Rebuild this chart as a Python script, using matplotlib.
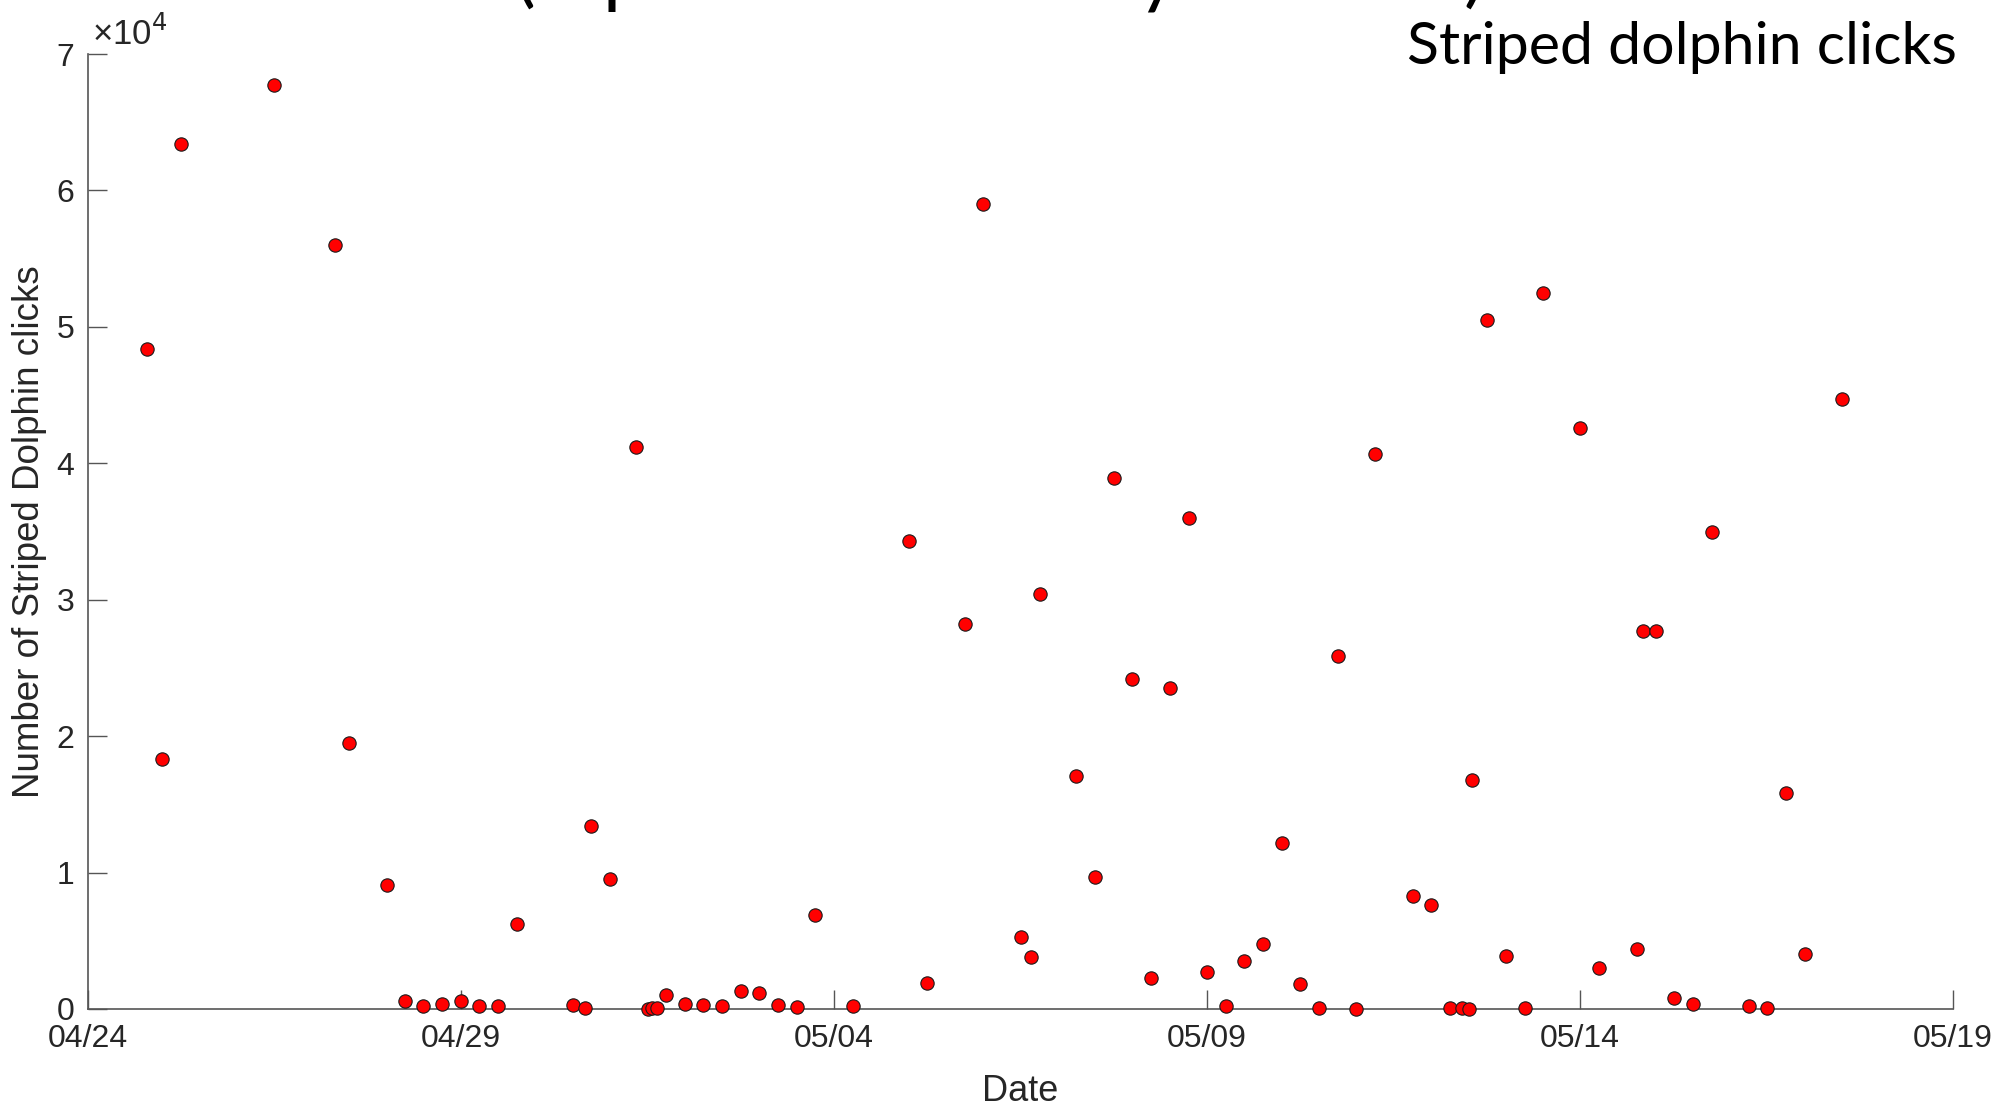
import matplotlib
matplotlib.use("Agg")
import matplotlib.pyplot as plt
import matplotlib.dates as mdates
import matplotlib.ticker as mticker
from matplotlib.transforms import offset_copy
import pandas as pd

# --- data ---
start_date = "2015-04-24"
end_date = "2015-05-19"
# time of each sample, in days after 04/24 00:00
day_offsets = [0.79, 0.99, 1.24, 2.49, 3.31, 3.50, 4.01, 4.25, 4.49, 4.75,
               5.00, 5.24, 5.50, 5.75, 6.50, 6.66, 6.74, 7.00, 7.34, 7.51,
               7.56, 7.63, 7.75, 8.00, 8.25, 8.50, 8.75, 9.00, 9.25, 9.50,
               9.75, 10.25, 11.00, 11.25, 11.75, 12.00, 12.50, 12.64, 12.76, 13.25,
               13.50, 13.75, 14.00, 14.25, 14.50, 14.76, 15.00, 15.25, 15.50, 15.75,
               16.00, 16.25, 16.50, 16.76, 17.00, 17.25, 17.76, 18.00, 18.26, 18.42,
               18.51, 18.55, 18.76, 19.01, 19.26, 19.51, 20.00, 20.25, 20.76, 20.84,
               21.02, 21.26, 21.51, 21.77, 22.27, 22.51, 22.76, 23.02, 23.51]
click_counts = [48400, 18300, 63400, 67700, 56000, 19500, 9100, 600, 200, 400,
                600, 200, 200, 6200, 300, 50, 13400, 9500, 41200, 30,
                60, 100, 1000, 400, 300, 200, 1300, 1200, 300, 150,
                6900, 200, 34300, 1900, 28200, 59000, 5300, 3800, 30400, 17100,
                9700, 38900, 24200, 2300, 23500, 36000, 2700, 200, 3500, 4800,
                12200, 1800, 100, 25900, 0, 40700, 8300, 7600, 100, 50,
                20, 16800, 50500, 3900, 100, 52500, 42600, 3000, 4400, 27700,
                27700, 800, 400, 35000, 200, 100, 15800, 4000, 44700]
tick_step_days = 5
y_ticks = [0, 10000, 20000, 30000, 40000, 50000, 60000, 70000]

W, H = 2000, 1106
AX_COL = "#555555"
TXT_COL = "#262626"

fig = plt.figure(figsize=(W / 100, H / 100), dpi=100)
ax = fig.add_axes([88 / W, 97 / H, 1865 / W, 955 / H])

t0 = pd.Timestamp(start_date)
times = t0 + pd.to_timedelta(day_offsets, unit="D")

ax.scatter(times, click_counts, s=92, facecolor="#ff0000", edgecolor="#1a1a1a",
           linewidth=0.8, zorder=3, clip_on=False)

# axes styling, MATLAB look (box off, ticks inside)
for side in ("top", "right"):
    ax.spines[side].set_visible(False)
for side in ("left", "bottom"):
    ax.spines[side].set_color(AX_COL)
    ax.spines[side].set_linewidth(1.2)

ax.set_xlim(t0, pd.Timestamp(end_date))
ax.set_ylim(y_ticks[0], y_ticks[-1])
ax.set_xticks(pd.date_range(start_date, end_date, freq=f"{tick_step_days}D"))
ax.xaxis.set_major_formatter(mdates.DateFormatter("%m/%d"))
ax.set_yticks(y_ticks)
ax.yaxis.set_major_formatter(mticker.FuncFormatter(lambda v, _: f"{v / 1e4:g}"))

ax.tick_params(direction="in", length=13.5, width=1.0, color=AX_COL,
               labelsize=23, labelcolor=TXT_COL)
ax.tick_params(axis="x", pad=11)
ax.tick_params(axis="y", pad=10)
for lab in ax.get_xticklabels() + ax.get_yticklabels():
    lab.set_family("Liberation Sans")

ax.set_xlabel("Date", fontsize=26, color=TXT_COL, family="Liberation Sans", labelpad=14)
ax.set_ylabel("Number of Striped Dolphin clicks", fontsize=26.5, color=TXT_COL,
              family="Liberation Sans", labelpad=7)

# exponent label above the y axis
exp_tr = offset_copy(ax.transAxes, fig=fig, x=4, y=9, units="dots")
ax.text(0.0, 1.0, "\u00d710$^{4}$", transform=exp_tr, ha="left", va="baseline",
        fontsize=25, color=TXT_COL, family="Liberation Sans")

# top-right caption, fitted to its width in the reference
cap = fig.text(1957 / W, 1 - 64 / H, "Striped dolphin clicks", ha="right", va="baseline",
               fontsize=40, family="Lato", color="black")
fig.canvas.draw()
bb = cap.get_window_extent()
cap.set_fontsize(40 * 549 / bb.width)

# bottom of a larger title that runs off the top of the image
for ch, xp, ha in [("(", 525, "center"), ("p", 602, "left"), ("y", 1157, "center"), (")", 1474, "center")]:
    fig.text(xp / W, 1.0 + 2 / H, ch, ha=ha, va="baseline", fontsize=56,
             family="Lato", color="black")

fig.savefig("out.png", dpi=100)
